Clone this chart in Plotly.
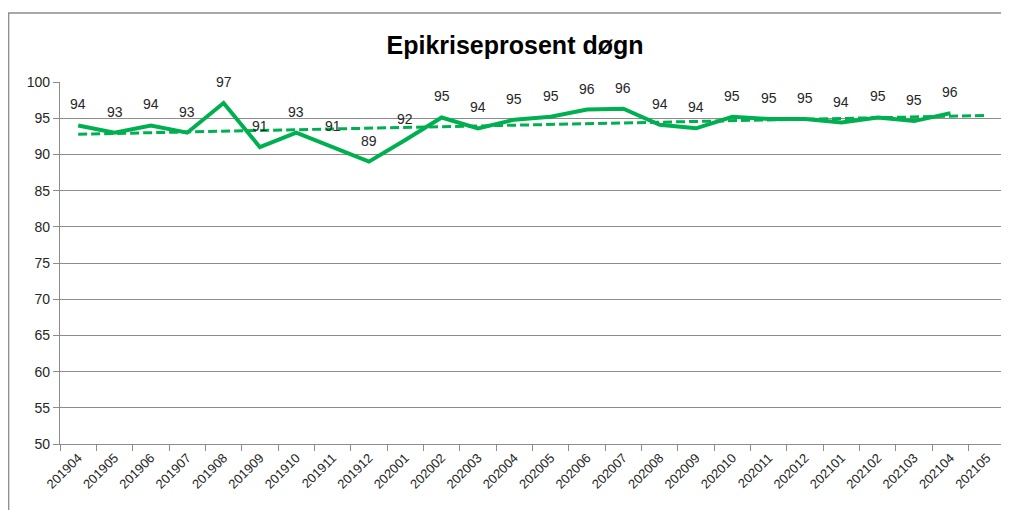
import numpy as np
import plotly.graph_objects as go

categories = ["201904", "201905", "201906", "201907", "201908", "201909", "201910",
              "201911", "201912", "202001", "202002", "202003", "202004", "202005",
              "202006", "202007", "202008", "202009", "202010", "202011", "202012",
              "202101", "202102", "202103", "202104", "202105"]
values = [94.0, 93.0, 94.0, 93.0, 97.1, 91.0, 93.0, 91.0, 89.0, 92.0, 95.1, 93.6,
          94.8, 95.2, 96.2, 96.3, 94.1, 93.6, 95.2, 94.9, 94.9, 94.4, 95.1, 94.6, 95.7]
y_ticks = [50, 55, 60, 65, 70, 75, 80, 85, 90, 95, 100]

GREEN = "#00B050"
GRID = "#8C8C8C"
TXT = "#262626"
FONT = "Liberation Sans"

n = len(values)
xi = np.arange(n)
slope, intercept = np.polyfit(xi, values, 1)
trend_x = np.arange(len(categories))
trend_y = slope * trend_x + intercept

fig = go.Figure()
fig.add_trace(go.Scatter(
    x=categories, y=trend_y, mode="lines",
    line=dict(color=GREEN, width=3, dash="9px,4px"),
    hoverinfo="skip", showlegend=False))
fig.add_trace(go.Scatter(
    x=categories[:n], y=values, mode="lines",
    line=dict(color=GREEN, width=4), showlegend=False))

annotations = [dict(x=i, y=v, xref="x", yref="y", text=str(int(round(v))),
                    showarrow=False, yshift=21,
                    font=dict(family=FONT, size=14, color=TXT))
               for i, v in enumerate(values)]

# page body has an 8px margin; place figure so plot area lands at
# screen x 60..1005, y 82..444
OFF = 8
W, H = 1001, 502
L, T = 60 - OFF, 82 - OFF
R = W - (1005 - OFF)
B = H - (444 - OFF)
pw, ph = W - L - R, H - T - B

fig.update_layout(
    width=W, height=H,
    margin=dict(l=L, r=R, t=T, b=B, autoexpand=False),
    paper_bgcolor="white", plot_bgcolor="white",
    title=dict(text="<b>Epikriseprosent døgn</b>", x=(515 - 60) / pw, xref="paper",
               xanchor="center", y=1 - (45 - OFF) / H, yanchor="middle",
               font=dict(family=FONT, size=25, color="black")),
    font=dict(family=FONT, color=TXT),
    annotations=annotations,
    shapes=[dict(type="rect", xref="paper", yref="paper",
                 x0=(0.7 - L) / pw, x1=(W + 10 - L) / pw,
                 y0=-(H + 10 - T - ph) / ph, y1=1 + (T - 5) / ph,
                 line=dict(color="#8C8C8C", width=1.3), layer="below")],
)
fig.update_xaxes(
    type="category", categoryorder="array", categoryarray=categories,
    range=[-0.5, len(categories) - 0.5], automargin=False,
    tickson="boundaries", ticks="outside", ticklen=6, tickcolor=GRID,
    showline=True, linecolor=GRID, linewidth=1.3, showgrid=False,
    tickangle=-45, tickfont=dict(family=FONT, size=13, color=TXT))
fig.update_yaxes(
    range=[50, 100], tickvals=y_ticks, ticks="outside", ticklen=6, tickcolor=GRID,
    showline=True, linecolor=GRID, linewidth=1.3, automargin=False,
    showgrid=True, gridcolor=GRID, gridwidth=1.3, zeroline=False,
    tickfont=dict(family=FONT, size=14, color=TXT))

fig.write_html("out.html")
